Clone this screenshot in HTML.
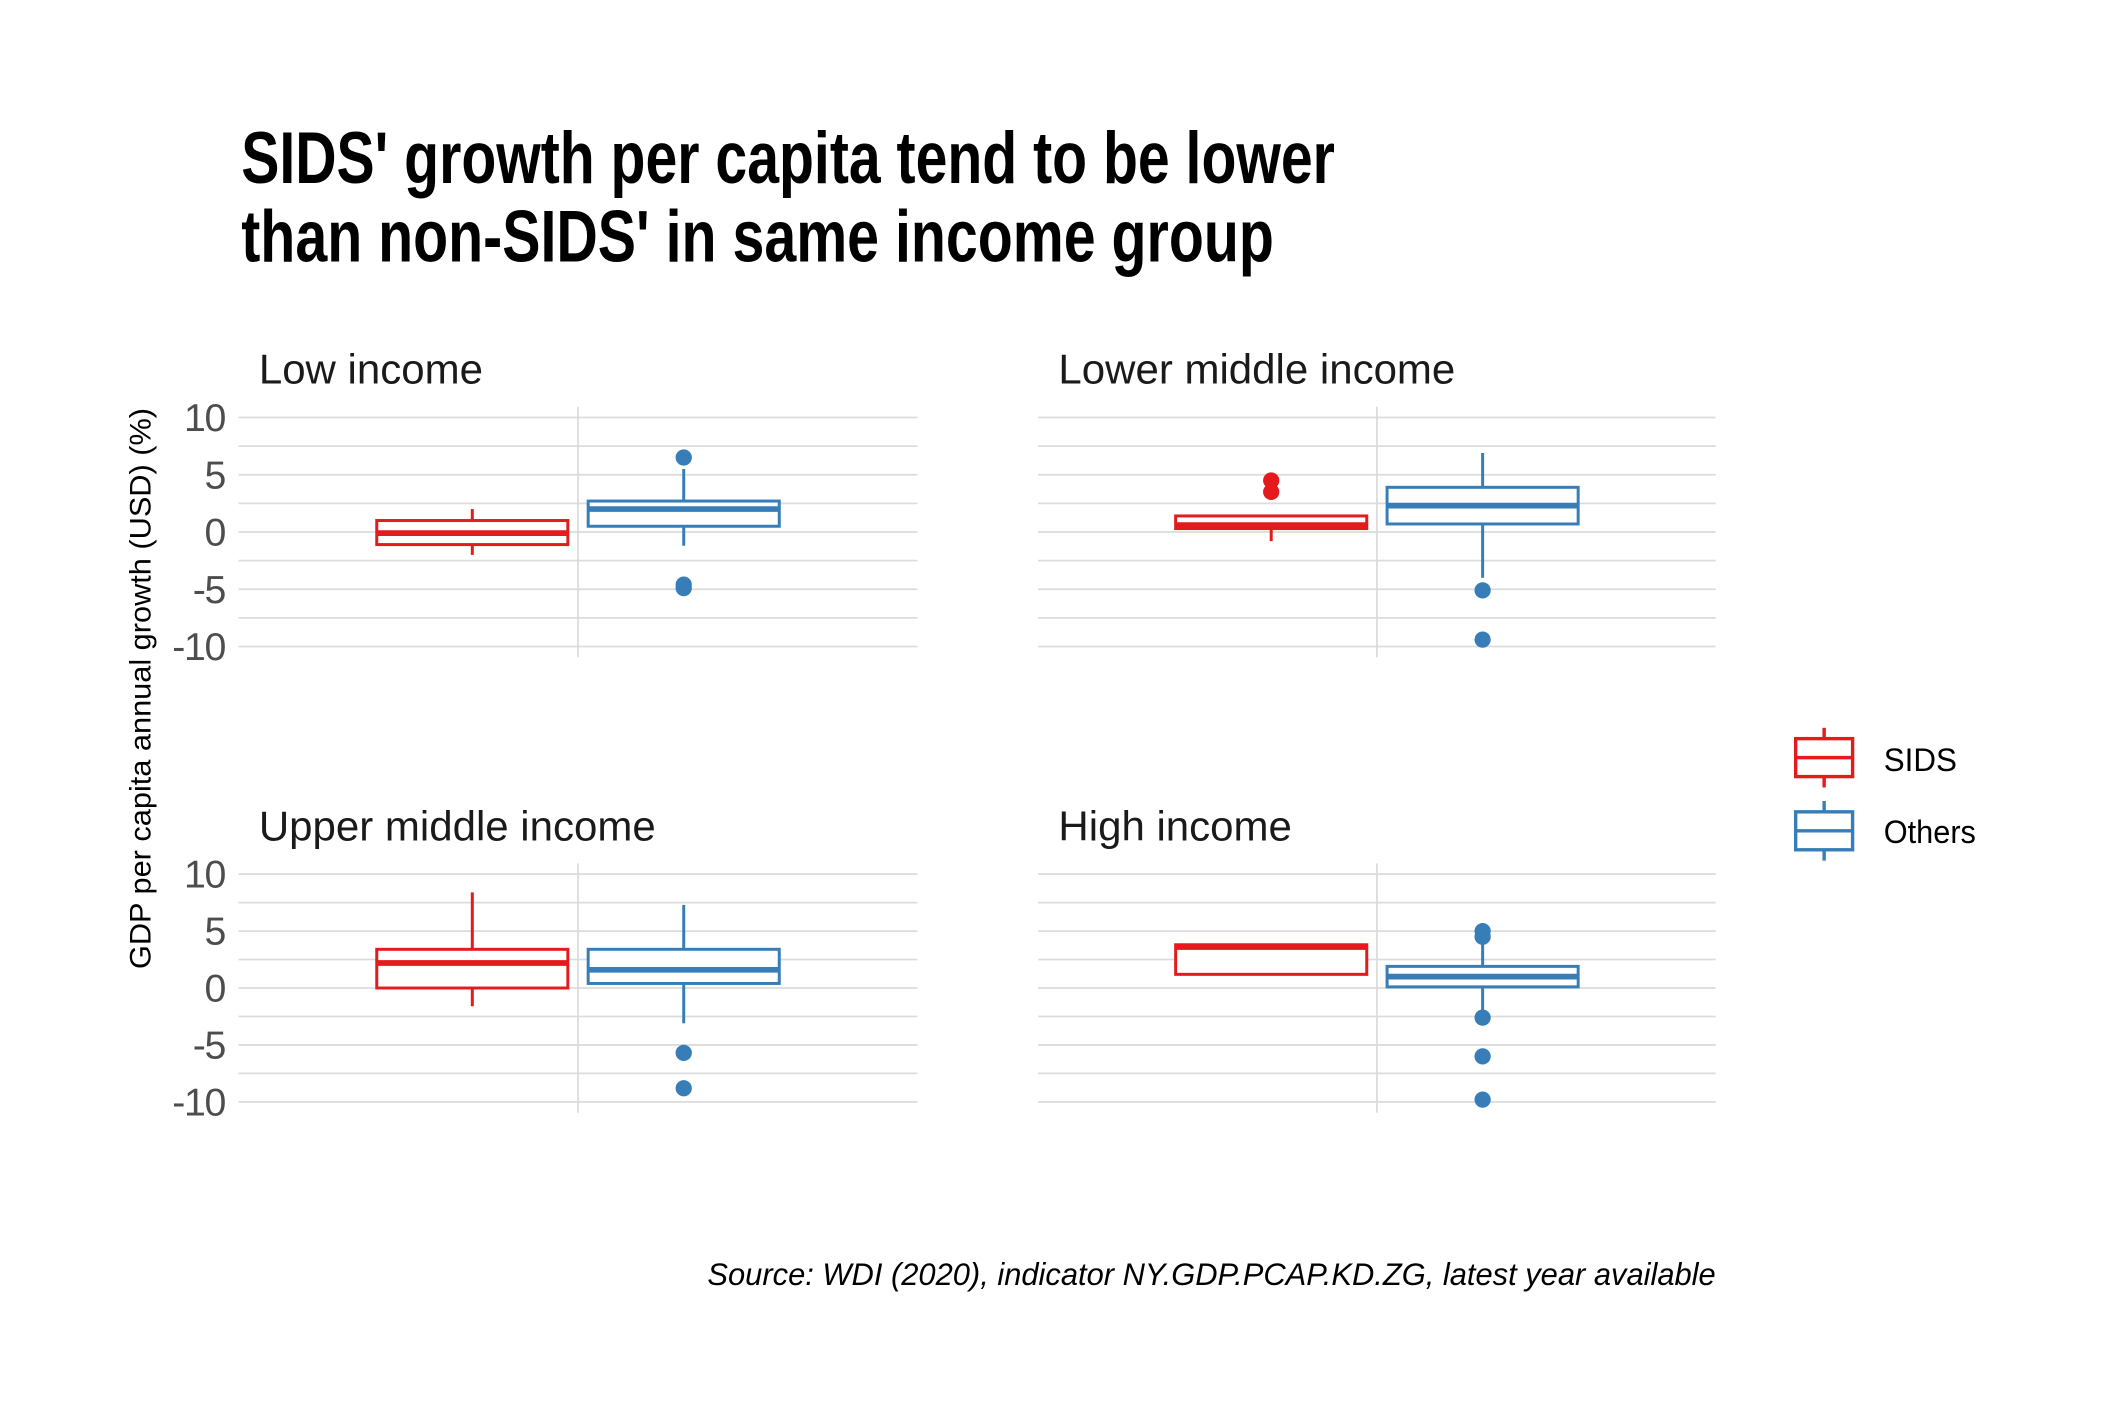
<!DOCTYPE html>
<html><head><meta charset="utf-8">
<style>
html,body{margin:0;padding:0;background:#fff;}
svg{display:block;}
text{font-family:"Liberation Sans",sans-serif;}
</style></head>
<body>
<svg id="chart" width="2125" height="1417" viewBox="0 0 1568 1045.5" xmlns="http://www.w3.org/2000/svg">
<rect width="1568" height="1046" fill="#fff"/>
<text x="178" y="135" font-size="54" font-weight="bold" textLength="807" lengthAdjust="spacingAndGlyphs" fill="#000">SIDS' growth per capita tend to be lower</text>
<text x="178" y="193" font-size="54" font-weight="bold" textLength="762" lengthAdjust="spacingAndGlyphs" fill="#000">than non-SIDS' in same income group</text>
<text transform="translate(111,508) rotate(-90)" text-anchor="middle" font-size="22" textLength="414" lengthAdjust="spacingAndGlyphs" fill="#000">GDP per capita annual growth (USD) (%)</text>
<g id="panels"></g>
<g>
 <line x1="1346" y1="537" x2="1346" y2="581" stroke="#e41a1c" stroke-width="2.5"/>
 <rect x="1325" y="545" width="42" height="28" fill="#fff" stroke="#e41a1c" stroke-width="2.5"/>
 <line x1="1325" y1="559" x2="1367" y2="559" stroke="#e41a1c" stroke-width="2.5"/>
 <text x="1390" y="569" font-size="24" textLength="54" lengthAdjust="spacingAndGlyphs">SIDS</text>
 <line x1="1346" y1="591" x2="1346" y2="635" stroke="#377eb8" stroke-width="2.5"/>
 <rect x="1325" y="599" width="42" height="28" fill="#fff" stroke="#377eb8" stroke-width="2.5"/>
 <line x1="1325" y1="613" x2="1367" y2="613" stroke="#377eb8" stroke-width="2.5"/>
 <text x="1390" y="622" font-size="24" textLength="68" lengthAdjust="spacingAndGlyphs">Others</text>
</g>
<text x="1266" y="948" text-anchor="end" font-size="23" font-style="italic" textLength="744" lengthAdjust="spacingAndGlyphs">Source: WDI (2020), indicator NY.GDP.PCAP.KD.ZG, latest year available</text>
</svg>
<script>
const panelTitles = ["Low income", "Lower middle income", "Upper middle income", "High income"];
const groups = ["SIDS", "Others"];
const yTicks = [10, 5, 0, -5, -10];
const yTickLabels = ["10", "5", "0", "-5", "-10"];
// [whiskerLow, q1, median, q3, whiskerHigh] per panel
const sidsStats = [
  [-2.0, -1.1, -0.1, 1.0, 2.0],
  [-0.8, 0.3, 0.6, 1.4, 1.5],
  [-1.6, 0.0, 2.2, 3.4, 8.4],
  [1.2, 1.2, 3.6, 3.8, 3.8]
];
const othersStats = [
  [-1.2, 0.5, 2.0, 2.7, 5.5],
  [-4.0, 0.7, 2.3, 3.9, 6.9],
  [-3.1, 0.4, 1.6, 3.4, 7.3],
  [-2.2, 0.1, 1.0, 1.9, 4.7]
];
const sidsOutliers = [[], [4.5, 3.5], [], []];
const othersOutliers = [[6.5, -4.6, -4.9], [-5.1, -9.4], [-5.7, -8.8], [5.0, 4.5, -2.6, -6.0, -9.8]];

const NS = "http://www.w3.org/2000/svg";
const root = document.getElementById("panels");
const layout = [
  {x0:176, x1:677, yTop:308, yBot:477, showY:true},
  {x0:766, x1:1266, yTop:308, yBot:477, showY:false},
  {x0:176, x1:677, yTop:645, yBot:813, showY:true},
  {x0:766, x1:1266, yTop:645, yBot:813, showY:false}
];
const colors = ["#e41a1c", "#377eb8"];
function mk(tag, attrs, parent){
  const e = document.createElementNS(NS, tag);
  for (const k in attrs) e.setAttribute(k, attrs[k]);
  parent.appendChild(e);
  return e;
}
layout.forEach((L, p) => {
  const g = mk("g", {}, root);
  
  
  const yMin = -10, yMax = 10;
  const ys = v => L.yBot - (v - yMin) / (yMax - yMin) * (L.yBot - L.yTop);
  const cx = (L.x0 + L.x1) / 2;
  const t = mk("text", {x: L.x0 + 15, y: L.yTop - 25, "font-size": 31, fill: "#1a1a1a"}, g);
  t.textContent = panelTitles[p];
  
  
  for (let v = yMin; v <= yMax; v += 2.5) {
    const gl = mk("line", {x1: L.x0, x2: L.x1, y1: ys(v), y2: ys(v), stroke: "#dcdcdc", "stroke-width": 1.3}, g);
    
    
  }
  const vl = mk("line", {x1: cx, x2: cx, y1: L.yTop - 8, y2: L.yBot + 8, stroke: "#dcdcdc", "stroke-width": 1.3}, g);
  
  
  if (L.showY) {
    yTicks.forEach((v, i) => {
      const tl = mk("text", {x: 166, y: ys(v) + 10, "text-anchor": "end", "font-size": 29, fill: "#4d4d4d", "letter-spacing": "-1"}, g);
      tl.textContent = yTickLabels[i];
      
      
    });
  }
  const boxW = 141, offset = 78;
  [sidsStats[p], othersStats[p]].forEach((s, gi) => {
    const c = colors[gi];
    const bx = cx + (gi === 0 ? -offset : offset);
    const bg = mk("g", {}, g);
    
    
    mk("line", {x1: bx, x2: bx, y1: ys(s[4]), y2: ys(s[3]), stroke: c, "stroke-width": 2.2}, bg);
    mk("line", {x1: bx, x2: bx, y1: ys(s[1]), y2: ys(s[0]), stroke: c, "stroke-width": 2.2}, bg);
    mk("rect", {x: bx - boxW/2, y: ys(s[3]), width: boxW, height: Math.max(0.5, ys(s[1]) - ys(s[3])), fill: "#fff", stroke: c, "stroke-width": 2.2}, bg);
    mk("line", {x1: bx - boxW/2, x2: bx + boxW/2, y1: ys(s[2]), y2: ys(s[2]), stroke: c, "stroke-width": 4.2}, bg);
    const outs = gi === 0 ? sidsOutliers[p] : othersOutliers[p];
    outs.forEach(v => {
      const o = mk("circle", {cx: bx, cy: ys(v), r: 6, fill: c}, g);
      
      
    });
  });
});
</script>
</body></html>
